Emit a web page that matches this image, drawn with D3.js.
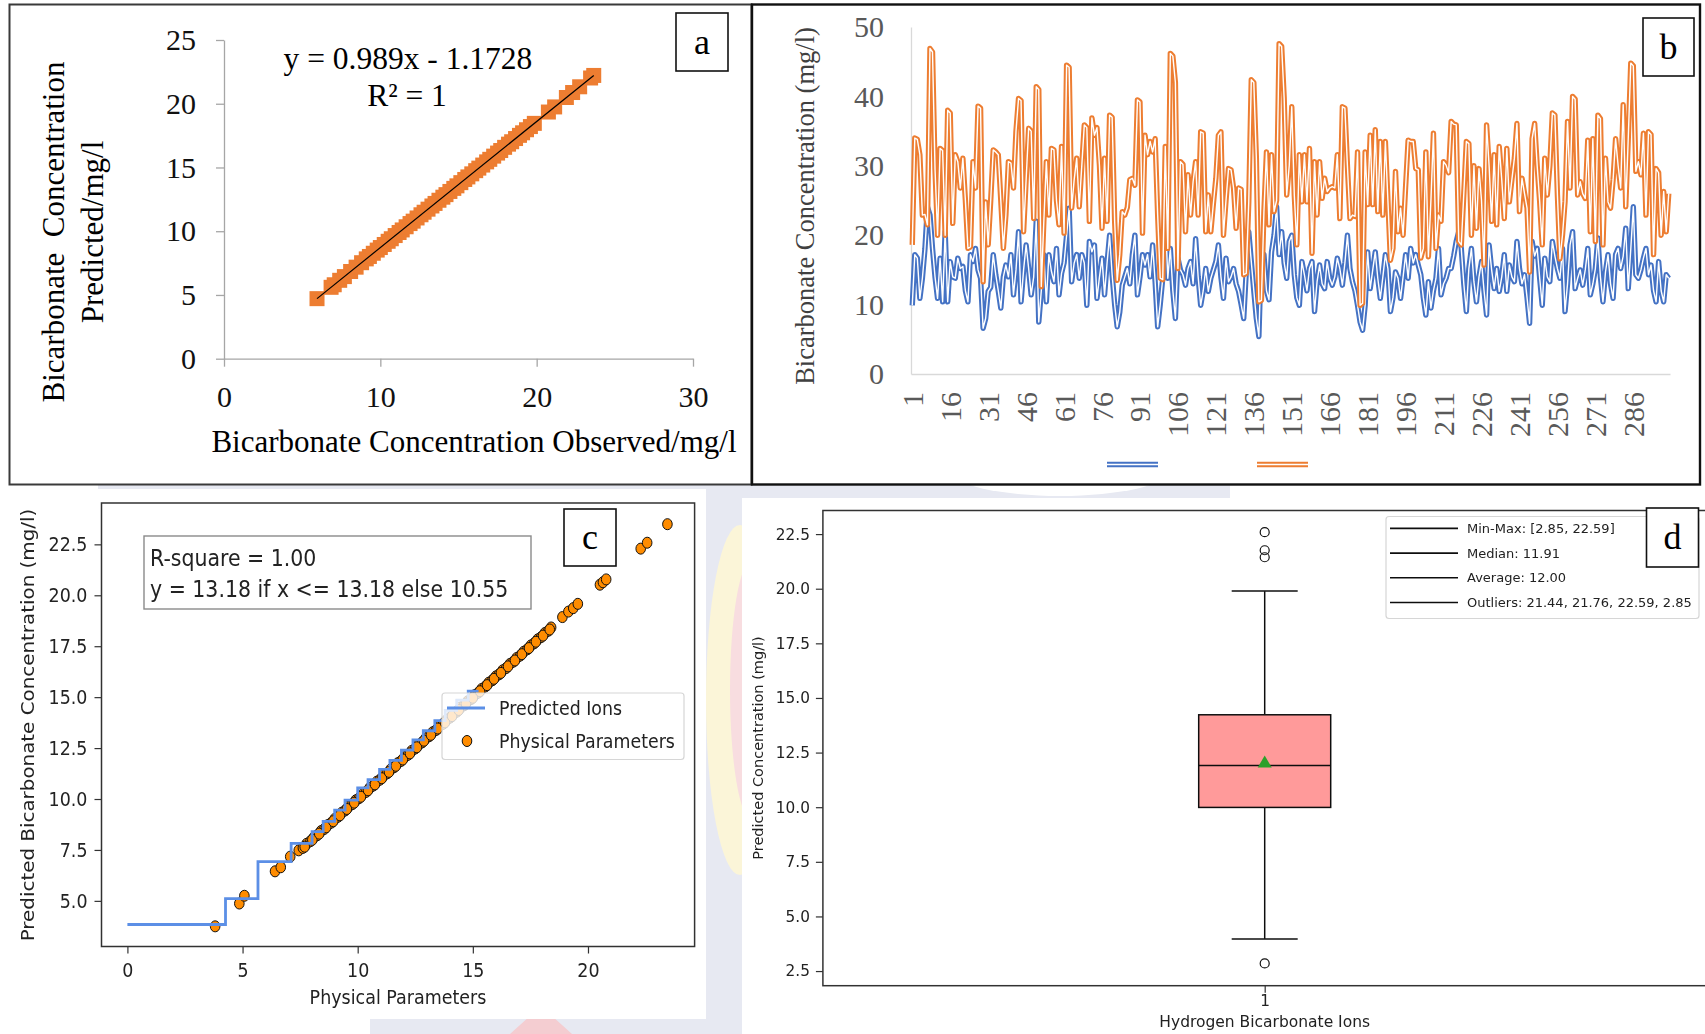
<!DOCTYPE html>
<html>
<head>
<meta charset="utf-8">
<script src="https://cdn.jsdelivr.net/npm/d3@7"></script>
<style>
  html, body { margin: 0; padding: 0; background: #fff; }
  svg { display: block; }
</style>
</head>
<body>
<svg id="fig" width="1705" height="1034"></svg>
<script>
// ---------------- (a) observed vs predicted scatter ----------------
const aObserved = [5.95, 6.85, 7.05, 7.4, 7.7, 8.1, 8.45, 8.8, 9.1, 9.3, 9.55, 9.8, 10.0, 10.25, 10.5, 10.7, 10.95, 11.2, 11.4, 11.65,
  11.9, 12.1, 12.35, 12.6, 12.8, 13.05, 13.3, 13.5, 13.75, 14.0, 14.2, 14.45, 14.7, 14.9, 15.15, 15.4, 15.6, 15.85, 16.1, 16.3,
  16.55, 16.8, 17.0, 17.25, 17.5, 17.7, 17.95, 18.2, 18.4, 18.65, 18.9, 19.1, 19.35, 19.6, 19.85, 20.75, 21.15, 21.9, 22.3, 22.75,
  23.45, 23.65];
const aPredicted = [4.71, 5.60, 5.80, 6.15, 6.44, 6.84, 7.18, 7.53, 7.83, 8.02, 8.27, 8.52, 8.72, 8.96, 9.21, 9.41, 9.66, 9.90, 10.10, 10.35,
  10.60, 10.79, 11.04, 11.29, 11.49, 11.73, 11.98, 12.18, 12.43, 12.67, 12.87, 13.12, 13.36, 13.56, 13.81, 14.06, 14.26, 14.50, 14.75, 14.95,
  15.19, 15.44, 15.64, 15.89, 16.13, 16.33, 16.58, 16.83, 17.02, 17.27, 17.52, 17.72, 17.96, 18.21, 18.46, 19.35, 19.75, 20.49, 20.88, 21.33,
  22.02, 22.22];
const aSlope = 0.989;
const aIntercept = -1.1728;
const aXTicks = [0, 10, 20, 30];
const aYTicks = [0, 5, 10, 15, 20, 25];

// ---------------- (b) sample-by-sample concentration ----------------
const bBlue = [
  9.9, 17.2, 16.7, 10.9, 13.8, 18, 24.1, 22.9, 18.1, 14,
  10.9, 16.7, 10.4, 20.5, 10.4, 16.2, 14, 13.8, 16.7, 15.2,
  15.5, 12, 10.4, 17.2, 16.2, 18.1, 15, 13.8, 6.6, 8,
  11.9, 12.5, 17.2, 14.3, 12, 9.5, 14, 15.7, 14, 17.2,
  11.4, 15, 20.5, 10.4, 15, 18.6, 15.2, 11.4, 14, 22,
  7.5, 12, 17.2, 10.4, 17.2, 14.8, 13.3, 18.1, 11.4, 14.5,
  16, 20, 23.9, 13.3, 16, 17.2, 13.8, 17.2, 16, 9.9,
  19.1, 17.6, 18.6, 10.9, 14,
  16.7, 11.4, 16, 20, 14.3, 10, 6.8, 8.9, 12.8, 14,
  15.2, 13, 17.2, 20, 11.4, 14, 17.2, 15.7, 17.2, 14,
  18.6, 13.3, 6.8, 10, 13.8, 22.9, 13.8, 18.1, 12, 8,
  16.7, 15, 14.3, 12.8, 15.2, 16.2, 13, 19.5, 14, 9.9,
  12, 15.2, 11.9, 13.8, 15, 16.2, 18.6, 14, 10.9, 16.7,
  13.3, 14, 15.2, 13, 11.9, 10, 8, 14.7, 20.5, 16.2,
  12, 8, 5.4, 17.6, 17.2, 12, 10.7, 17.6, 20, 24.1,
  17.2, 20.5, 16, 13.8, 19.1,
  20, 14.3, 11, 9.9, 16.2, 14.3, 12, 15.2, 16.2, 9,
  13.3, 15.7, 13, 12.3, 16.2, 13.8, 12.8, 14, 16.7, 15.2,
  12.8, 16, 20, 15.2, 13.3, 12, 9.9, 7.5, 6.3, 9.9,
  17.6, 12.3, 15, 17.6, 13.8, 10.9, 14, 17.2, 15.2, 9,
  11, 14.7, 13.8, 10.9, 14, 17.2, 13.8, 18.1, 16, 17.2,
  15.7, 14.3, 11, 8.5, 13.3, 9.5, 12, 13.8, 18.1, 11.4,
  13, 13.8, 15.2, 15.2, 17, 19.1, 20.5, 18.1, 13, 9,
  15.2, 18.1, 13.3,
  10.4, 14, 16.2, 12, 8.5, 18.6, 15, 12.3, 15.2, 11.9,
  14, 17.2, 11.9, 15.7, 14, 13.3, 19.1, 15.2, 13, 14.3,
  11, 7.3, 19.1, 17, 18.1, 13.8, 9.9, 16.7, 14, 13.3,
  19.1, 17, 15.2, 13.8, 18.1, 9, 13, 18.6, 20.5, 12.3,
  13.8, 15, 12.8, 15, 18.1, 11.4, 13, 15.2, 19.6, 14,
  10.4, 14.7, 17.2, 13, 10.9, 17.2, 18.1, 15.2, 17, 21,
  12.3, 18, 24.1, 14.3, 13.8, 15, 16.7, 18.1, 14.3, 15.7,
  12, 10.4, 16.2, 12, 10.4, 14.3, 13.8
];
const bOrange = [
  18.6, 34, 33.8, 31.6, 22.9, 23, 21.5, 46.9, 46.4, 29.5,
  20, 32.5, 32.2, 20, 38, 37.6, 21.7, 31.6, 30.6, 26.8,
  31.1, 25, 18.1, 18.3, 30.6, 26.8, 38.6, 38.3, 13.3, 24.8,
  18.6, 25, 32.3, 32, 31.6, 25, 18.1, 22.9, 30.6, 30.4,
  26.8, 35, 39.7, 39.4, 20.5, 28, 35.4, 35, 22.4, 41.4,
  41, 12.6, 22, 30.6, 22.9, 32.5, 32.3, 25, 21.5, 32.8,
  20.3, 44.5, 44.2, 23.9, 28, 31.1, 24.1, 30, 35.9, 35.5,
  22, 36.9, 34.4, 35.5, 30, 21, 31.1,
  22, 37.3, 37, 22, 13.5, 17.2, 23.4, 22.9, 24, 28,
  28.2, 27.2, 39.5, 39.2, 20.3, 34.4, 31.6, 33.5, 32, 33.9,
  22.9, 13.8, 13.6, 32.8, 18.1, 46.2, 45.8, 42, 15.2, 30.6,
  30.2, 20.5, 28.7, 22.9, 27.7, 30.6, 22.9, 34.9, 34.7, 20.5,
  25.8, 20.5, 24.5, 28.2, 34.4, 34.9, 20, 25, 29.6, 29.4,
  26.8, 21, 26.8, 26.6, 14.3, 14.5, 24.8, 42.4, 42, 31.1,
  10.4, 10.6, 23.4, 32, 21.5, 31.6, 23.4, 25, 47.6, 47.2,
  39.7, 25.8, 30,
  38.5, 25.8, 18.6, 31.6, 24.8, 31.6, 24.8, 32.5, 17.4, 30.6,
  22.9, 30.6, 25.3, 28.2, 26.3, 26.8, 27, 26.8, 31.6, 22.4,
  38.5, 38.3, 30, 22.4, 22.9, 22.7, 32, 9.9, 10.2, 32,
  24.4, 34.4, 24.4, 35.2, 23.4, 33.5, 22.9, 33.5, 25, 16.4,
  18.1, 29.2, 20.5, 23.9, 20, 27, 33.7, 33.5, 33.5, 29.6,
  29.4, 16.7, 18.1, 32, 16.9, 25, 34.7, 18.1, 22.9, 22,
  30.6, 30.1, 29, 36.4, 36, 35.9, 19.1, 18.6, 26, 33.5,
  33.2, 20, 30,
  21, 29.6, 25, 15.7, 35.9, 30, 22, 31.6, 21.5, 32.8,
  28, 22.4, 32.5, 24.8, 28, 31.1, 36.1, 23.4, 28.2, 26,
  23.9, 14.7, 33.9, 36.1, 30, 24.8, 18.6, 31.1, 25.8, 30,
  37.6, 37.3, 25.8, 16.6, 20, 24.8, 36.4, 26.8, 40, 39.6,
  25.8, 27.7, 26, 25.3, 33.7, 20.5, 33.9, 19.1, 37.3, 36.8,
  18.6, 31.1, 24.8, 23.9, 28, 33.9, 30, 26.8, 38.8, 24.1,
  34, 44.8, 44.4, 29.2, 30.6, 28.7, 34.7, 22.9, 34.9, 34.5,
  17.2, 29.6, 29, 20, 26.3, 20.5, 26
];
const bCategories = d3.range(1, bBlue.length + 1);
const bTickLabels = [1, 16, 31, 46, 61, 76, 91, 106, 121, 136, 151, 166, 181, 196, 211, 226, 241, 256, 271, 286];
const bYTicks = [0, 10, 20, 30, 40, 50];

// ---------------- (c) predicted vs physical parameters ----------------
const cObserved = [3.81, 4.86, 5.08, 6.41, 6.66, 7.07, 7.44,
  7.62, 7.78, 7.95, 8.1, 8.24, 8.41, 8.55, 8.7, 8.86, 9.0,
  9.15, 9.31, 9.46, 9.6, 9.77, 9.92, 10.06, 10.22, 10.37, 10.52,
  10.68, 10.83, 10.97, 11.13, 11.28, 11.44, 11.58, 11.74, 11.89, 12.03,
  12.19, 12.34, 12.5, 12.64, 12.8, 12.95, 13.1, 13.26, 13.41, 13.55,
  13.71, 13.86, 14.02, 14.17, 14.31, 14.47, 14.62, 14.78, 14.93, 15.08,
  15.24, 15.38, 15.54, 15.69, 15.85, 16.0, 16.14, 16.3, 16.45, 16.61,
  16.76, 16.9, 17.06, 17.21, 17.37, 17.52, 17.66, 17.82, 17.97, 18.13,
  18.28, 18.4,
  7.7, 8.03, 8.33, 8.63, 8.94, 9.23, 9.53, 9.85, 10.14, 10.45,
  10.75, 11.05, 11.36, 11.66, 11.96, 12.27, 12.57, 12.88, 13.18, 13.48,
  13.79, 14.1, 14.39, 14.7, 15.0, 15.31, 15.62, 15.92, 16.22, 16.53,
  16.83, 17.13, 17.44, 17.74, 18.05, 18.34,
  18.89, 19.15, 19.36, 19.56, 20.52, 20.65, 20.79, 22.29, 22.57, 23.45];
const cPredicted = [3.75, 4.87, 5.25, 6.45, 6.65, 7.17, 7.48,
  7.6, 7.8, 7.93, 8.12, 8.22, 8.43, 8.53, 8.72, 8.84, 9.02,
  9.13, 9.33, 9.44, 9.62, 9.75, 9.94, 10.04, 10.24, 10.35, 10.54,
  10.66, 10.85, 10.95, 11.15, 11.26, 11.46, 11.56, 11.76, 11.87, 12.05,
  12.17, 12.36, 12.48, 12.66, 12.78, 12.97, 13.08, 13.28, 13.39, 13.57,
  13.69, 13.88, 14.0, 14.19, 14.29, 14.49, 14.6, 14.8, 14.91, 15.1,
  15.22, 15.4, 15.52, 15.71, 15.83, 16.02, 16.12, 16.32, 16.43, 16.63,
  16.74, 16.92, 17.04, 17.23, 17.35, 17.54, 17.64, 17.84, 17.95, 18.15,
  18.26, 18.42,
  7.66, 8.0, 8.3, 8.61, 8.91, 9.2, 9.51, 9.82, 10.11, 10.43,
  10.72, 11.02, 11.33, 11.63, 11.94, 12.24, 12.54, 12.86, 13.15, 13.46,
  13.76, 14.07, 14.37, 14.68, 14.97, 15.29, 15.59, 15.9, 16.19, 16.51,
  16.8, 17.11, 17.41, 17.72, 18.02, 18.32,
  18.93, 19.2, 19.37, 19.58, 20.52, 20.64, 20.78, 22.29, 22.58, 23.49];
const cStepX = [0, 4.26, 5.67, 7.11, 8.02, 8.5, 9.0, 9.45, 10.0, 10.45, 10.95, 11.4, 11.9, 12.4, 12.85, 13.35, 13.8, 14.3, 14.8, 15.25];
const cStepY = [3.84, 5.11, 6.93, 7.82, 8.4, 8.9, 9.45, 9.95, 10.55, 10.95, 11.45, 11.9, 12.4, 12.9, 13.35, 13.85, 14.35, 14.85, 15.3, 15.3];
const cXTicks = [0, 5, 10, 15, 20];
const cYTicks = [5, 7.5, 10, 12.5, 15, 17.5, 20, 22.5];

// ---------------- (d) box plot ----------------
const dWhiskers = [3.97, 19.89];
const dQuartiles = [9.99, 11.91, 14.23];
const dMean = 12.00;
const dOutliers = [21.44, 21.76, 22.59, 2.85];
const dLegend = ["Min-Max: [2.85, 22.59]", "Median: 11.91", "Average: 12.00", "Outliers: 21.44, 21.76, 22.59, 2.85"];
const dYTicks = [2.5, 5, 7.5, 10, 12.5, 15, 17.5, 20, 22.5];
const dXTicks = [1];

// ===================================================================
const svg = d3.select("#fig");
const serif = "'Liberation Serif','Times New Roman',serif";
const sans = "'DejaVu Sans','Bitstream Vera Sans',sans-serif";

const defs = svg.append("defs");
defs.append("filter").attr("id", "soft")
  .attr("x", "-5%").attr("y", "-5%").attr("width", "110%").attr("height", "110%")
  .append("feGaussianBlur").attr("stdDeviation", 0.55);

// faint logo watermark behind the lower figures
const wm = svg.append("g");
wm.append("rect").attr("x", 98).attr("y", 485).attr("width", 1132).attr("height", 20).attr("fill", "#e7e9f2");
wm.append("ellipse").attr("cx", 1060).attr("cy", 470).attr("rx", 110).attr("ry", 26).attr("fill", "#fff");
wm.append("rect").attr("x", 704).attr("y", 486).attr("width", 40).attr("height", 548).attr("fill", "#e7e9f2");
wm.append("ellipse").attr("cx", 740).attr("cy", 700).attr("rx", 34).attr("ry", 175).attr("fill", "#fbf5d8");
wm.append("ellipse").attr("cx", 752).attr("cy", 690).attr("rx", 22).attr("ry", 130).attr("fill", "#f8dde0");
wm.append("rect").attr("x", 370).attr("y", 1018).attr("width", 336).attr("height", 16).attr("fill", "#e7e9f2");
wm.append("path").attr("d", "M510,1034 L530,1016 L552,1016 L572,1034 Z").attr("fill", "#f4cdd1");

// white picture backgrounds of the two lower figures
svg.append("rect").attr("x", 0).attr("y", 489).attr("width", 706).attr("height", 530).attr("fill", "#fff");
svg.append("rect").attr("x", 742).attr("y", 498).attr("width", 963).attr("height", 536).attr("fill", "#fff");

function labelBox(x, y, w, h, letter) {
  svg.append("rect").attr("x", x).attr("y", y).attr("width", w).attr("height", h)
    .attr("fill", "#fff").attr("stroke", "#111").attr("stroke-width", 1.6);
  svg.append("text").attr("x", x + w / 2).attr("y", y + h * 0.7)
    .attr("text-anchor", "middle").attr("font-family", serif).attr("font-size", 36)
    .attr("fill", "#000").text(letter);
}

// ---------------- panel (a) ----------------
svg.append("rect").attr("x", 9.5).attr("y", 4.5).attr("width", 742).attr("height", 480)
  .attr("fill", "#fff").attr("stroke", "#3a3a3a").attr("stroke-width", 2);

const xA = d3.scaleLinear().domain([0, 30]).range([224, 693]);
const yA = d3.scaleLinear().domain([0, 25]).range([358.7, 40]);

const axAx = svg.append("g").attr("transform", `translate(0,${yA(0)})`)
  .call(d3.axisBottom(xA).tickValues(aXTicks).tickSize(8).tickSizeOuter(0).tickPadding(19));
const axAy = svg.append("g").attr("transform", `translate(${xA(0)},0)`)
  .call(d3.axisLeft(yA).tickValues(aYTicks).tickSize(8).tickSizeOuter(0).tickPadding(20));
[axAx, axAy].forEach(g => {
  g.select(".domain").attr("stroke", "#a6a6a6").attr("stroke-width", 1.3);
  g.selectAll(".tick line").attr("stroke", "#a6a6a6").attr("stroke-width", 1.3);
  g.selectAll(".tick text").attr("font-family", serif).attr("font-size", 30).attr("fill", "#111");
});

svg.append("g").selectAll("rect").data(aObserved).join("rect")
  .attr("x", d => xA(d) - 7.5)
  .attr("y", (d, i) => yA(aPredicted[i]) - 7.5)
  .attr("width", 15).attr("height", 15)
  .attr("fill", "#ED7D31");

const aFitX = d3.extent(aObserved);
svg.append("line")
  .attr("x1", xA(aFitX[0])).attr("y1", yA(aSlope * aFitX[0] + aIntercept))
  .attr("x2", xA(aFitX[1])).attr("y2", yA(aSlope * aFitX[1] + aIntercept))
  .attr("stroke", "#000").attr("stroke-width", 1.2);

svg.append("text").attr("x", 408).attr("y", 69).attr("text-anchor", "middle")
  .attr("font-family", serif).attr("font-size", 31.5).attr("fill", "#000")
  .text(`y = ${aSlope}x - ${Math.abs(aIntercept)}`);
svg.append("text").attr("x", 407).attr("y", 106).attr("text-anchor", "middle")
  .attr("font-family", serif).attr("font-size", 31.5).attr("fill", "#000")
  .text("R² = 1");

svg.append("text").attr("x", 474).attr("y", 452).attr("text-anchor", "middle")
  .attr("font-family", serif).attr("font-size", 31).attr("fill", "#000")
  .text("Bicarbonate Concentration Observed/mg/l");
[["Bicarbonate  Concentration", 53], ["Predicted/mg/l", 92]].forEach(([t, cx]) => {
  svg.append("text").attr("transform", `translate(${cx},232) rotate(-90)`)
    .attr("text-anchor", "middle").attr("dy", "0.35em")
    .attr("font-family", serif).attr("font-size", 31).attr("fill", "#000")
    .style("white-space", "pre").text(t);
});
labelBox(676, 13, 52, 58, "a");

// ---------------- panel (b) ----------------
svg.append("rect").attr("x", 752).attr("y", 4.5).attr("width", 948).attr("height", 480)
  .attr("fill", "#fff").attr("stroke", "#111").attr("stroke-width", 2.4);

const xB = d3.scaleBand().domain(bCategories).range([911, 1670]);
const bw = xB.bandwidth();
const yB = d3.scaleLinear().domain([0, 50]).range([374, 27]);

const axBx = svg.append("g").attr("transform", `translate(0,${yB(0)})`)
  .call(d3.axisBottom(xB).tickValues(bTickLabels).tickSize(0).tickSizeOuter(0));
axBx.selectAll(".tick text")
  .attr("transform", "rotate(-90)").attr("x", -18).attr("y", 0).attr("dy", "0.35em")
  .attr("text-anchor", "end")
  .attr("font-family", serif).attr("font-size", 30).attr("fill", "#595959");
const axBy = svg.append("g").attr("transform", `translate(${xB.range()[0]},0)`)
  .call(d3.axisLeft(yB).tickValues(bYTicks).tickSize(0).tickSizeOuter(0).tickPadding(27));
axBy.selectAll(".tick text").attr("font-family", serif).attr("font-size", 30).attr("fill", "#595959");
[axBx, axBy].forEach(g => g.select(".domain").attr("stroke", "#d9d9d9").attr("stroke-width", 1.3));

// each series is drawn as a double (compound) line
const lineB = d3.line().x((d, i) => xB(bCategories[i]) + bw / 2).y(d => yB(d));
[[bBlue, "#4472C4"], [bOrange, "#ED7D31"]].forEach(([vals, col]) => {
  svg.append("path").attr("d", lineB(vals)).attr("fill", "none")
    .attr("stroke", col).attr("stroke-width", 5.4).attr("stroke-linejoin", "round");
  svg.append("path").attr("d", lineB(vals)).attr("fill", "none")
    .attr("stroke", "#fff").attr("stroke-width", 1.4).attr("stroke-linejoin", "round");
});

svg.append("text").attr("transform", "translate(805,206) rotate(-90)")
  .attr("text-anchor", "middle").attr("dy", "0.35em")
  .attr("font-family", serif).attr("font-size", 26.5).attr("fill", "#404040")
  .text("Bicarbonate Concentration (mg/l)");

// legend swatches (series without names)
[[1107, "#4472C4"], [1257, "#ED7D31"]].forEach(([x0, col]) => {
  svg.append("line").attr("x1", x0).attr("x2", x0 + 51).attr("y1", 464.5).attr("y2", 464.5)
    .attr("stroke", col).attr("stroke-width", 5.4);
  svg.append("line").attr("x1", x0).attr("x2", x0 + 51).attr("y1", 464.5).attr("y2", 464.5)
    .attr("stroke", "#fff").attr("stroke-width", 1.4);
});
labelBox(1643, 18, 51, 58, "b");

// ---------------- panel (c) ----------------
const kC = 1.15;   // vertical stretch of this picture
const gC = svg.append("g").attr("filter", "url(#soft)");
const xC = d3.scaleLinear().domain([-1.125, 24.63]).range([101.5, 694.6]);
const yC = d3.scaleLinear().domain([2.76, 24.53]).range([946.5, 503]);

gC.append("rect").attr("x", 101.5).attr("y", 503).attr("width", 593.1).attr("height", 443.5)
  .attr("fill", "#fff").attr("stroke", "#333").attr("stroke-width", 1.5);

const axCy = gC.append("g").attr("transform", `translate(101.5,0)`)
  .call(d3.axisLeft(yC).tickValues(cYTicks).tickFormat(d3.format(".1f")).tickSize(7).tickPadding(7));
const axCx = gC.append("g").attr("transform", `translate(0,946.5)`)
  .call(d3.axisBottom(xC).tickValues(cXTicks).tickSize(7));
[axCx, axCy].forEach(g => {
  g.select(".domain").remove();
  g.selectAll(".tick line").attr("stroke", "#333").attr("stroke-width", 1.2);
  g.selectAll(".tick text").attr("font-family", sans).attr("font-size", 17.5).attr("fill", "#222")
    .attr("transform", `scale(1,${kC})`);
});
axCx.selectAll(".tick text").attr("y", 31 / kC).attr("dy", 0);

gC.append("g").selectAll("ellipse").data(cObserved).join("ellipse")
  .attr("cx", d => xC(d)).attr("cy", (d, i) => yC(cPredicted[i]))
  .attr("rx", 4.8).attr("ry", 4.8 * kC)
  .attr("fill", "#FF8C00").attr("stroke", "#111").attr("stroke-width", 1);

const stepLine = d3.line().curve(d3.curveStepAfter).x((d, i) => xC(cStepX[i])).y(d => yC(d));
gC.append("path").attr("d", stepLine(cStepY)).attr("fill", "none")
  .attr("stroke", "#5B8FE6").attr("stroke-width", 2.8);

function sText(parent, x, y, str, size, k, opts = {}) {
  const g = parent.append("g").attr("transform", `translate(${x},${y}) scale(1,${k})` + (opts.rotate ? ` rotate(${opts.rotate})` : ""));
  return g.append("text").attr("text-anchor", opts.anchor || "start").attr("dy", opts.dy || 0)
    .attr("font-family", sans).attr("font-size", size).attr("fill", opts.fill || "#222").text(str);
}

// equation box
gC.append("rect").attr("x", 144).attr("y", 536).attr("width", 387).attr("height", 73)
  .attr("fill", "#fff").attr("stroke", "#8a8a8a").attr("stroke-width", 1.4);
sText(gC, 150, 566, "R-square = 1.00", 20.5, kC);
sText(gC, 150, 597, "y = 13.18 if x <= 13.18 else 10.55", 20.5, kC);

// legend
gC.append("rect").attr("x", 442).attr("y", 693).attr("width", 242).attr("height", 66.5).attr("rx", 3)
  .attr("fill", "#fff").attr("fill-opacity", 0.8).attr("stroke", "#d6d6d6").attr("stroke-width", 1.2);
gC.append("line").attr("x1", 447).attr("x2", 485).attr("y1", 708).attr("y2", 708)
  .attr("stroke", "#5B8FE6").attr("stroke-width", 2.8);
gC.append("ellipse").attr("cx", 467).attr("cy", 741).attr("rx", 4.8).attr("ry", 4.8 * kC)
  .attr("fill", "#FF8C00").attr("stroke", "#111").attr("stroke-width", 1);
sText(gC, 499, 708, "Predicted Ions", 17.4, kC, { dy: "0.36em" });
sText(gC, 499, 741, "Physical Parameters", 17.4, kC, { dy: "0.36em" });

sText(gC, 398, 1004, "Physical Parameters", 17.5, kC, { anchor: "middle" });
sText(gC, 28, 725, "Predicted Bicarbonate Concentration (mg/l)", 17.3, kC, { anchor: "middle", rotate: -90, dy: "0.36em" });

labelBox(564, 509, 52, 57, "c");

// ---------------- panel (d) ----------------
const gD = svg.append("g").attr("filter", "url(#soft)");
const xD = d3.scaleLinear().domain([0.5, 1.5]).range([822.9, 1706.5]);
const yD = d3.scaleLinear().domain([1.83, 23.58]).range([985.7, 510.5]);

gD.append("rect").attr("x", 822.9).attr("y", 510.5).attr("width", 883.6).attr("height", 475.2)
  .attr("fill", "#fff").attr("stroke", "#333").attr("stroke-width", 1.5);

const axDy = gD.append("g").attr("transform", `translate(822.9,0)`)
  .call(d3.axisLeft(yD).tickValues(dYTicks).tickFormat(d3.format(".1f")).tickSize(7).tickPadding(6));
const axDx = gD.append("g").attr("transform", `translate(0,985.7)`)
  .call(d3.axisBottom(xD).tickValues(dXTicks).tickFormat(d3.format("d")).tickSize(7));
[axDx, axDy].forEach(g => {
  g.select(".domain").remove();
  g.selectAll(".tick line").attr("stroke", "#333").attr("stroke-width", 1.2);
  g.selectAll(".tick text").attr("font-family", sans).attr("font-size", 15.3).attr("fill", "#222");
});
axDx.selectAll(".tick text").attr("y", 20.5).attr("dy", 0);

const cx = xD(dXTicks[0]);
const boxHalf = 66;
// whiskers and caps
gD.append("line").attr("x1", cx).attr("x2", cx).attr("y1", yD(dWhiskers[0])).attr("y2", yD(dQuartiles[0]))
  .attr("stroke", "#111").attr("stroke-width", 1.5);
gD.append("line").attr("x1", cx).attr("x2", cx).attr("y1", yD(dQuartiles[2])).attr("y2", yD(dWhiskers[1]))
  .attr("stroke", "#111").attr("stroke-width", 1.5);
dWhiskers.forEach(v => gD.append("line").attr("x1", cx - boxHalf / 2).attr("x2", cx + boxHalf / 2)
  .attr("y1", yD(v)).attr("y2", yD(v)).attr("stroke", "#111").attr("stroke-width", 1.5));
// box
gD.append("rect").attr("x", cx - boxHalf).attr("y", yD(dQuartiles[2]))
  .attr("width", boxHalf * 2).attr("height", yD(dQuartiles[0]) - yD(dQuartiles[2]))
  .attr("fill", "#FF9A9A").attr("stroke", "#111").attr("stroke-width", 1.5);
gD.append("line").attr("x1", cx - boxHalf).attr("x2", cx + boxHalf)
  .attr("y1", yD(dQuartiles[1])).attr("y2", yD(dQuartiles[1])).attr("stroke", "#111").attr("stroke-width", 1.5);
// mean marker
gD.append("path").attr("d", d3.symbol(d3.symbolTriangle, 85)())
  .attr("transform", `translate(${cx},${yD(dMean)})`).attr("fill", "#2ca02c");
// outliers
gD.append("g").selectAll("circle").data(dOutliers).join("circle")
  .attr("cx", cx).attr("cy", d => yD(d)).attr("r", 4.5)
  .attr("fill", "none").attr("stroke", "#111").attr("stroke-width", 1.2);

// legend
gD.append("rect").attr("x", 1386).attr("y", 516.5).attr("width", 313).attr("height", 102).attr("rx", 3)
  .attr("fill", "#fff").attr("fill-opacity", 0.8).attr("stroke", "#d6d6d6").attr("stroke-width", 1.2);
dLegend.forEach((t, i) => {
  const y = 528.4 + i * 24.7;
  gD.append("line").attr("x1", 1390).attr("x2", 1458).attr("y1", y).attr("y2", y)
    .attr("stroke", "#111").attr("stroke-width", 1.6);
  gD.append("text").attr("x", 1467).attr("y", y).attr("dy", "0.36em")
    .attr("font-family", sans).attr("font-size", 13).attr("fill", "#222").text(t);
});

gD.append("text").attr("x", cx).attr("y", 1027).attr("text-anchor", "middle")
  .attr("font-family", sans).attr("font-size", 15.5).attr("fill", "#222").text("Hydrogen Bicarbonate Ions");
gD.append("text").attr("transform", "translate(757.6,748) rotate(-90)")
  .attr("text-anchor", "middle").attr("dy", "0.36em")
  .attr("font-family", sans).attr("font-size", 14.5).attr("fill", "#222").text("Predicted Concentration (mg/l)");

labelBox(1646.5, 508, 52, 59, "d");
</script>
</body>
</html>
